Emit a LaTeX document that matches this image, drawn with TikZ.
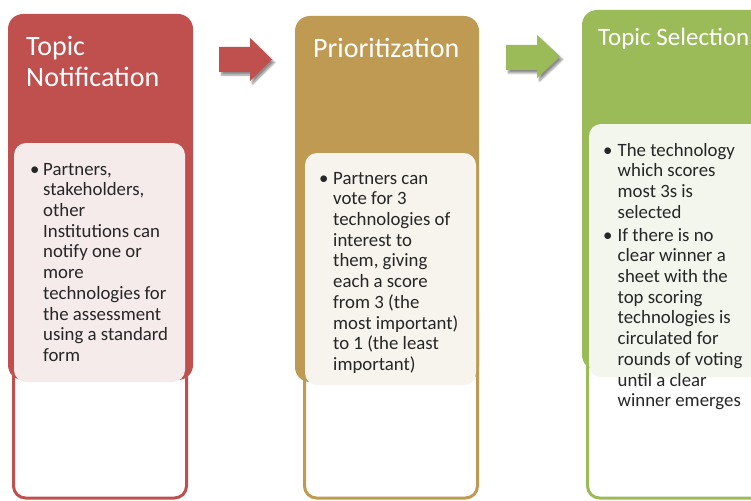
\documentclass[tikz,border=0pt]{standalone}
\usepackage{fontspec}
\setmainfont{Carlito}
\usetikzlibrary{shadows.blur}
\definecolor{cred}{RGB}{192,80,77}
\definecolor{cgold}{RGB}{190,154,83}
\definecolor{cgreen}{RGB}{155,187,89}
\definecolor{lred}{RGB}{246,235,235}
\definecolor{lgold}{RGB}{247,243,237}
\definecolor{lgreen}{RGB}{242,246,237}
\tikzset{
  outerbox/.style={draw=#1, line width=3pt, fill=white, rounded corners=12pt},
  headbox/.style={fill=#1, rounded corners=15pt},
  innerbox/.style={fill=#1, rounded corners=12pt},
  titletext/.style={text=white, font=\fontsize{28}{31}\selectfont, inner sep=0pt, anchor=base west},
  smalltitle/.style={text=white, font=\fontsize{25}{28}\selectfont, inner sep=0pt, anchor=base west},
  bodytext/.style={inner sep=0pt, anchor=base west, font=\fontsize{18.8}{20.74}\selectfont, text=black!85},
  bulletmark/.style={inner sep=0pt, anchor=base west, font=\fontsize{18.8}{20.74}\selectfont, text=black!85},
  flowarrow/.style={fill=#1, blur shadow={shadow xshift=2.5pt, shadow yshift=-3pt, shadow blur steps=6, shadow opacity=45}},
}
\newcommand{\linesbox}[2]{\parbox[t]{#1}{\raggedright #2}}
\begin{document}
\begin{tikzpicture}[x=1pt,y=-1pt]
\useasboundingbox (0,0) rectangle (751,500);
\clip (0,0) rectangle (751,500);
% ---------- column 1 ----------
\draw[outerbox=cred] (13.5,300) rectangle (186.5,498);
\fill[headbox=cred] (8,14) rectangle (193,380);
\fill[innerbox=lred] (14,143) rectangle (185,382);
\node[titletext] (t1a) at (26,56) {Topic};
\node[titletext] (t1b) at (26,87) {Notification};
\node[bulletmark] (b1) at (30,175) {•};
\node[bodytext] (x1) at (43,175) {\linesbox{150pt}{Partners,\\stakeholders,\\other\\Institutions can\\notify one or\\more\\technologies for\\the assessment\\using a standard\\form}};
% ---------- arrow 1 ----------
\fill[flowarrow=cred] (219,47) -- (250,47) -- (250,38) -- (272,59.5) -- (250,81) -- (250,72) -- (219,72) -- cycle;
% ---------- column 2 ----------
\draw[outerbox=cgold] (304.5,300) rectangle (477.5,498);
\fill[headbox=cgold] (295,16) rectangle (479,382);
\fill[innerbox=lgold] (305,153) rectangle (476,385);
\node[titletext] (t2) at (313,58) {Prioritization};
\node[bulletmark] (b2) at (319,184) {•};
\node[bodytext] (x2) at (333,184) {\linesbox{150pt}{Partners can\\vote for 3\\technologies of\\interest to\\them, giving\\each a score\\from 3 (the\\most important)\\to 1 (the least\\important)}};
% ---------- arrow 2 ----------
\fill[flowarrow=cgreen] (506,45) -- (537,45) -- (537,35) -- (560,56.5) -- (537,78) -- (537,70) -- (506,70) -- cycle;
% ---------- column 3 ----------
\draw[outerbox=cgreen] (587.5,300) rectangle (770,498);
\fill[headbox=cgreen] (582,10) rectangle (780,370);
\fill[innerbox=lgreen] (589,124) rectangle (780,377);
\node[smalltitle] (t3) at (598,46) {Topic Selection};
\node[bulletmark] (b3a) at (603,156) {•};
\node[bodytext] (x3a) at (617.5,156) {\linesbox{150pt}{The technology\\which scores\\most 3s is\\selected}};
\node[bulletmark] (b3b) at (603,241) {•};
\node[bodytext] (x3b) at (617.5,241) {\linesbox{150pt}{If there is no\\clear winner a\\sheet with the\\top scoring\\technologies is\\circulated for\\rounds of voting\\until a clear\\winner emerges}};
\end{tikzpicture}
\end{document}
